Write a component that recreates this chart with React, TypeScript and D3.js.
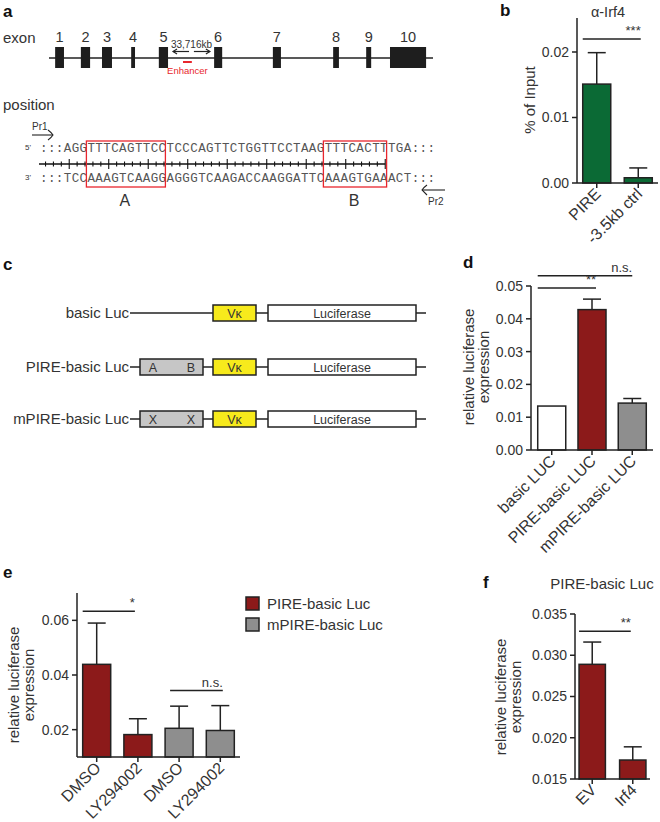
import React from 'react';
import * as d3 from 'd3';

// ---------------- data ----------------
const exonLabels = ['1', '2', '3', '4', '5', '6', '7', '8', '9', '10'];
const exonStart = [1.6, 8.3, 13.8, 21.4, 28.6, 43.0, 58.3, 74.0, 82.6, 88.8]; // % of gene span
const exonEnd = [3.9, 10.7, 16.4, 22.4, 31.0, 45.1, 60.4, 75.5, 83.9, 98.2];
const enhancerSpan = [34.9, 37.2];
const intronSpan = [32.3, 41.9];
const intronLabel = '33,716kb';

const seqTop = 'AGGTTTCAGTTCCTCCCAGTTCTGGTTCCTAAGTTTCACTTTGA';
const seqBottom = 'TCCAAAGTCAAGGAGGGTCAAGACCAAGGATTCAAAGTGAAACT';
const motifNames = ['A', 'B'];
const motifStart = [3, 33];
const motifLen = [10, 8];

const bCats = ['PIRE', '-3.5kb ctrl'];
const bMeans = [0.0151, 0.0008];
const bErrs = [0.0048, 0.0015];

const constructNames = ['basic Luc', 'PIRE-basic Luc', 'mPIRE-basic Luc'];
const constructSites = [[], ['A', 'B'], ['X', 'X']];

const dCats = ['basic LUC', 'PIRE-basic LUC', 'mPIRE-basic LUC'];
const dMeans = [0.0134, 0.0428, 0.0143];
const dErrs = [0, 0.0032, 0.0014];

const eCats = ['DMSO', 'LY294002', 'DMSO', 'LY294002'];
const eGroups = ['PIRE-basic Luc', 'PIRE-basic Luc', 'mPIRE-basic Luc', 'mPIRE-basic Luc'];
const eMeans = [0.0439, 0.0182, 0.0205, 0.0197];
const eErrs = [0.0151, 0.0058, 0.0081, 0.0091];
const legendNames = ['PIRE-basic Luc', 'mPIRE-basic Luc'];

const fCats = ['EV', 'Irf4'];
const fMeans = [0.0289, 0.0173];
const fErrs = [0.0027, 0.0016];

// ---------------- styles ----------------
const FONT = 'Arial, "Liberation Sans", Helvetica, sans-serif';
const MONO = '"Liberation Mono", "Courier New", monospace';
const TXT = '#333';
const AX = '#222';
const GREEN = '#0b6a35';
const RED = '#8c1a1a';
const GREY = '#8e8e8e';
const BOXGREY = '#c6c6c6';
const YELLOW = '#f7ea1c';

type Sig = { a: number; b: number; bOff?: number; aCenter?: boolean; aOff?: number; v: number; text: string };

function BarChart(p: {
  cats: string[]; means: number[]; errs: number[]; fills: string[];
  y: d3.ScaleLinear<number, number>; yMin: number; yMax: number;
  xRange: [number, number]; padIn: number; padOut: number;
  ticks: number[]; fmt: string;
  yLabel: string[]; yLabelX: number[]; yLabelY: number;
  sigs: Sig[]; capW: number; xFont?: number;
}) {
  const idx = p.cats.map((_, i) => String(i));
  const x = d3.scaleBand<string>().domain(idx).range(p.xRange).paddingInner(p.padIn).paddingOuter(p.padOut);
  const bw = x.bandwidth();
  const x0 = p.xRange[0];
  const yb = p.y(p.yMin);
  const f = d3.format(p.fmt);
  const xf = p.xFont || 16;
  return (
    <g fontFamily={FONT}>
      {p.means.map((m, i) => {
        const cx = (x(String(i)) as number) + bw / 2;
        const e = p.errs[i];
        return (
          <g key={'b' + i}>
            {e > 0 && (
              <g stroke={AX} strokeWidth={1.5}>
                <line x1={cx} x2={cx} y1={p.y(m)} y2={p.y(m + e)} />
                <line x1={cx - p.capW / 2} x2={cx + p.capW / 2} y1={p.y(m + e)} y2={p.y(m + e)} />
              </g>
            )}
            <rect x={x(String(i))} y={p.y(m)} width={bw} height={yb - p.y(m)} fill={p.fills[i]} stroke={AX} strokeWidth={1.5} />
            <line x1={cx} x2={cx} y1={yb} y2={yb + 5} stroke={AX} strokeWidth={1.5} />
            <text transform={`translate(${cx + 5},${yb + 12}) rotate(-45)`} textAnchor="end" fontSize={xf} fill={TXT}>{p.cats[i]}</text>
          </g>
        );
      })}
      <line x1={x0} x2={x0} y1={yb} y2={p.y(p.yMax)} stroke={AX} strokeWidth={1.5} />
      <line x1={x0} x2={p.xRange[1]} y1={yb} y2={yb} stroke={AX} strokeWidth={1.5} />
      {p.ticks.map((t) => (
        <g key={'t' + t}>
          <line x1={x0 - 5} x2={x0} y1={p.y(t)} y2={p.y(t)} stroke={AX} strokeWidth={1.5} />
          <text x={x0 - 8} y={p.y(t)} dy="0.35em" textAnchor="end" fontSize={14} fill={TXT}>{f(t)}</text>
        </g>
      ))}
      {p.yLabel.map((s, i) => (
        <text key={'yl' + i} transform={`translate(${p.yLabelX[i]},${p.yLabelY}) rotate(-90)`} textAnchor="middle" fontSize={15} fill={TXT}>{s}</text>
      ))}
      {p.sigs.map((s, i) => {
        const xa = (x(String(s.a)) as number) + (s.aCenter ? bw / 2 : 0) + (s.aOff || 0);
        const xbb = (x(String(s.b)) as number) + bw / 2 + (s.bOff || 0);
        return (
          <g key={'s' + i}>
            <line x1={xa} x2={xbb} y1={p.y(s.v)} y2={p.y(s.v)} stroke={AX} strokeWidth={1.5} />
            <text x={xbb} y={p.y(s.v) - 4} textAnchor="end" fontSize={13} fill={TXT}>{s.text}</text>
          </g>
        );
      })}
    </g>
  );
}

function PanelA() {
  const gx = d3.scaleLinear().domain([0, 100]).range([49, 433]);
  const full = ':::' + seqTop + ':::';
  const full3 = ':::' + seqBottom + ':::';
  const cx = d3.scaleLinear().domain([0, full.length]).range([40, 435]);
  const rulerN = 44;
  const ticks = d3.range(rulerN);
  return (
    <g fontFamily={FONT} fill={TXT}>
      <text x={3} y={17} fontSize={17} fontWeight="bold" fill="#111">a</text>
      <text x={3} y={43} fontSize={15}>exon</text>
      <line x1={gx(0)} x2={gx(100)} y1={58} y2={58} stroke={AX} strokeWidth={1.5} />
      {exonLabels.map((l, i) => (
        <g key={l}>
          <rect x={gx(exonStart[i])} y={47} width={gx(exonEnd[i]) - gx(exonStart[i])} height={21} fill="#1e1e1e" />
          <text x={(gx(exonStart[i]) + gx(exonEnd[i])) / 2} y={42} textAnchor="middle" fontSize={14.5}>{l}</text>
        </g>
      ))}
      <text x={(gx(intronSpan[0]) + gx(intronSpan[1])) / 2} y={48} textAnchor="middle" fontSize={10}>{intronLabel}</text>
      <g stroke={AX} strokeWidth={1.2} fill="none">
        <line x1={gx(intronSpan[0])} x2={gx(intronSpan[0]) + 16} y1={51.5} y2={51.5} />
        <path d={`M${gx(intronSpan[0]) + 4},49 L${gx(intronSpan[0])},51.5 L${gx(intronSpan[0]) + 4},54`} />
        <line x1={gx(intronSpan[1]) - 16} x2={gx(intronSpan[1])} y1={51.5} y2={51.5} />
        <path d={`M${gx(intronSpan[1]) - 4},49 L${gx(intronSpan[1])},51.5 L${gx(intronSpan[1]) - 4},54`} />
      </g>
      <line x1={gx(enhancerSpan[0])} x2={gx(enhancerSpan[1])} y1={62} y2={62} stroke="#e8262d" strokeWidth={2} />
      <text x={(gx(enhancerSpan[0]) + gx(enhancerSpan[1])) / 2} y={74} textAnchor="middle" fontSize={9.5} fill="#e8262d">Enhancer</text>

      <text x={3} y={110} fontSize={15}>position</text>
      <text x={32} y={130} fontSize={10}>Pr1</text>
      <g stroke={AX} strokeWidth={1.1} fill="none">
        <line x1={32} x2={53} y1={135} y2={135} />
        <path d="M48,130 Q52,133 53,135 Q51,138 48,140" />
        <line x1={422} x2={445} y1={190} y2={190} />
        <path d="M427,185 Q423,188 422,190 Q424,192 427,195" />
      </g>
      <text x={428} y={205} fontSize={10}>Pr2</text>
      <text x={25} y={150} fontSize={8}>5'</text>
      <text x={25} y={180} fontSize={8}>3'</text>
      <text x={cx(0)} y={152} fontFamily={MONO} fontSize={12.5} textLength={cx(full.length) - cx(0)} lengthAdjust="spacing" fill="#555">{full}</text>
      <text x={cx(0)} y={182} fontFamily={MONO} fontSize={12.5} textLength={cx(full3.length) - cx(0)} lengthAdjust="spacing" fill="#555">{full3}</text>
      <line x1={39} x2={cx(rulerN - 0.3)} y1={164} y2={164} stroke="#111" strokeWidth={1.6} />
      {ticks.map((k) => (
        <line key={k} x1={cx(k + 0.7)} x2={cx(k + 0.7)} y1={k % 5 === 3 ? 159 : 161.5} y2={k % 5 === 3 ? 169 : 166.5} stroke="#111" strokeWidth={1.1} />
      ))}
      {motifNames.map((m, i) => (
        <g key={m}>
          <rect x={cx(motifStart[i] + 3) - 1} y={141} width={cx(motifLen[i]) - cx(0)} height={46} fill="none" stroke="#e8262d" strokeWidth={1.3} />
          <text x={cx(motifStart[i] + 3 + motifLen[i] / 2) - 2} y={206} textAnchor="middle" fontSize={16}>{m}</text>
        </g>
      ))}
    </g>
  );
}

function PanelC() {
  const rowsY = [313, 367, 419];
  return (
    <g fontFamily={FONT} fill={TXT}>
      <text x={3} y={270} fontSize={17} fontWeight="bold" fill="#111">c</text>
      {constructNames.map((n, i) => {
        const y = rowsY[i];
        const sites = constructSites[i];
        return (
          <g key={n}>
            <text x={129} y={y + 5} textAnchor="end" fontSize={15}>{n}</text>
            <line x1={130} x2={426} y1={y} y2={y} stroke={AX} strokeWidth={1.5} />
            {sites.length > 0 && (
              <g>
                <rect x={140} y={y - 8} width={63} height={16} fill={BOXGREY} stroke={AX} strokeWidth={1.5} />
                <text x={153} y={y + 4.5} textAnchor="middle" fontSize={12.5}>{sites[0]}</text>
                <text x={191} y={y + 4.5} textAnchor="middle" fontSize={12.5}>{sites[1]}</text>
              </g>
            )}
            <rect x={213} y={y - 8} width={43} height={16} fill={YELLOW} stroke={AX} strokeWidth={1.5} />
            <text x={234.5} y={y + 4.5} textAnchor="middle" fontSize={12.5}>Vκ</text>
            <rect x={268} y={y - 8} width={148} height={16} fill="#fff" stroke={AX} strokeWidth={1.5} />
            <text x={342} y={y + 4.5} textAnchor="middle" fontSize={12.5}>Luciferase</text>
          </g>
        );
      })}
    </g>
  );
}

export default function App() {
  const yB = d3.scaleLinear().domain([0, 0.02]).range([183, 52]);
  const yD = d3.scaleLinear().domain([0, 0.05]).range([450, 286]);
  const yE = d3.scaleLinear().domain([0.01, 0.07]).range([757, 593]);
  const yF = d3.scaleLinear().domain([0.015, 0.035]).range([779, 614]);
  const legendColor = d3.scaleOrdinal<string, string>().domain(legendNames).range([RED, GREY]);
  return (
    <svg width={660} height={822} style={{ position: 'absolute', left: 0, top: 0, background: '#fff' }}>
      <rect width={660} height={822} fill="#fff" />
      <PanelA />
      <PanelC />

      {/* b */}
      <text x={500} y={16} fontFamily={FONT} fontSize={17} fontWeight="bold" fill="#111">b</text>
      <text x={608} y={17} fontFamily={FONT} fontSize={14.5} textAnchor="middle" fill={TXT}>α-Irf4</text>
      <BarChart cats={bCats} means={bMeans} errs={bErrs} fills={[GREEN, GREEN]} y={yB} yMin={0} yMax={0.0252}
        xRange={[577, 658]} padIn={0.325} padOut={0.138} ticks={[0, 0.01, 0.02]} fmt=".2f"
        yLabel={['% of Input']} yLabelX={[535]} yLabelY={100}
        sigs={[{ a: 0, b: 1, bOff: 2.5, v: 0.022, text: '***' }]} capW={18} />

      {/* d */}
      <text x={463} y={268} fontFamily={FONT} fontSize={17} fontWeight="bold" fill="#111">d</text>
      <BarChart cats={dCats} means={dMeans} errs={dErrs} fills={['#fff', RED, GREY]} y={yD} yMin={0} yMax={0.05}
        xRange={[531, 653]} padIn={0.304} padOut={0.167} ticks={[0, 0.01, 0.02, 0.03, 0.04, 0.05]} fmt=".2f"
        yLabel={['relative luciferase', 'expression']} yLabelX={[474, 489]} yLabelY={367}
        sigs={[{ a: 0, b: 1, bOff: 4, v: 0.0494, text: '**' }, { a: 0, b: 2, v: 0.0531, text: 'n.s.' }]} capW={18} />

      {/* e */}
      <text x={3} y={578} fontFamily={FONT} fontSize={17} fontWeight="bold" fill="#111">e</text>
      <BarChart cats={eCats} means={eMeans} errs={eErrs} fills={eGroups.map((g) => legendColor(g))} y={yE} yMin={0.01} yMax={0.07}
        xRange={[77, 240]} padIn={0.32} padOut={0.138} ticks={[0.02, 0.04, 0.06]} fmt=".2f"
        yLabel={['relative luciferase', 'expression']} yLabelX={[19, 34]} yLabelY={685}
        sigs={[{ a: 0, b: 1, bOff: -3, v: 0.0633, text: '*' }, { a: 2, aOff: 5, b: 3, bOff: 2.5, v: 0.0343, text: 'n.s.' }]} capW={18} />
      <g fontFamily={FONT}>
        {legendNames.map((n, i) => (
          <g key={n}>
            <rect x={246} y={597 + i * 21} width={13} height={13} fill={legendColor(n)} stroke={AX} strokeWidth={1.5} />
            <text x={267} y={609 + i * 21} fontSize={15} fill={TXT}>{n}</text>
          </g>
        ))}
      </g>

      {/* f */}
      <text x={483} y={588} fontFamily={FONT} fontSize={17} fontWeight="bold" fill="#111">f</text>
      <text x={602} y={589} fontFamily={FONT} fontSize={15} textAnchor="middle" fill={TXT}>PIRE-basic Luc</text>
      <BarChart cats={fCats} means={fMeans} errs={fErrs} fills={[RED, RED]} y={yF} yMin={0.015} yMax={0.035}
        xRange={[575, 650]} padIn={0.35} padOut={0.1} ticks={[0.015, 0.02, 0.025, 0.03, 0.035]} fmt=".3f"
        yLabel={['relative luciferase', 'expression']} yLabelX={[506, 521]} yLabelY={697}
        sigs={[{ a: 0, b: 1, bOff: -2, v: 0.0329, text: '**' }]} capW={18} />
    </svg>
  );
}
